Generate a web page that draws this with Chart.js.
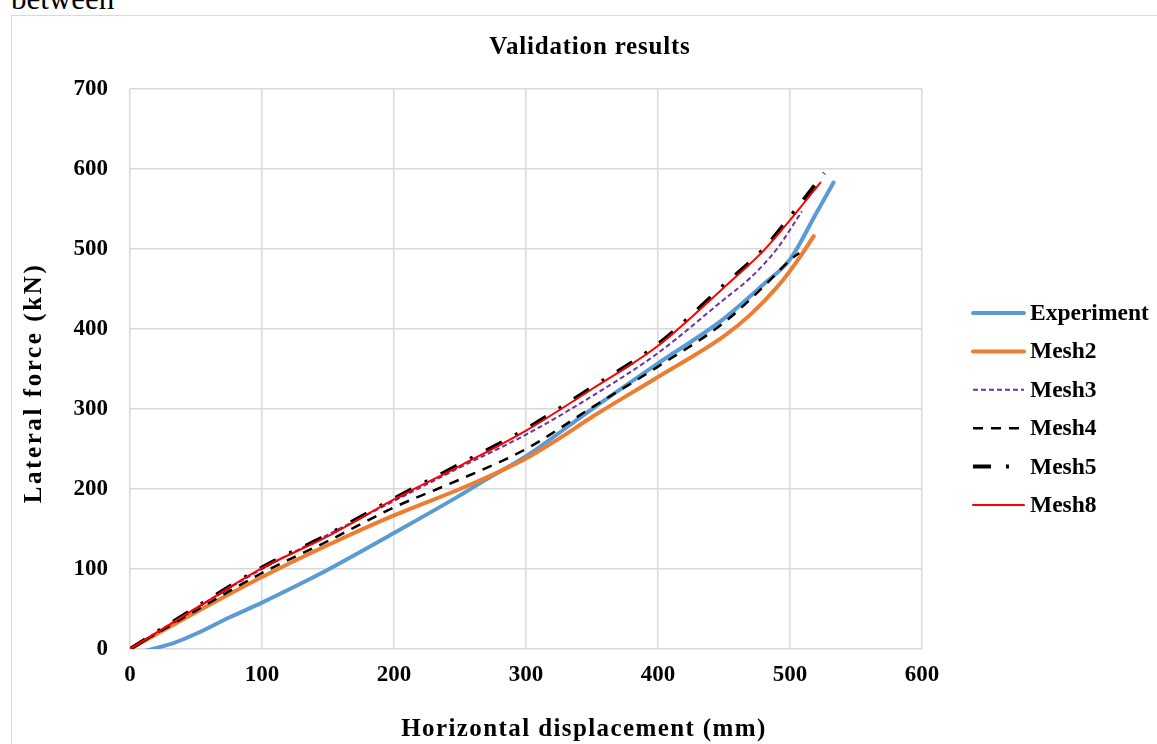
<!DOCTYPE html>
<html>
<head>
<meta charset="utf-8">
<script src="https://cdn.jsdelivr.net/npm/chart.js@4.4.1/dist/chart.umd.min.js"></script>
<style>
  html, body { margin: 0; padding: 0; background: #fff; overflow: hidden; }
  body { width: 1157px; height: 744px; position: relative; }
  #cut { position: absolute; left: 11px; top: -17px; font: 31px "Liberation Serif", serif; line-height: 31px; color: #000; }
  #frame { position: absolute; left: 11px; top: 15px; width: 1160px; height: 740px; border: 1px solid #d9d9d9; }
  #frame canvas { position: absolute; left: 0; top: 0; }
</style>
</head>
<body>
<div id="cut">between</div>
<div id="frame"><canvas id="validation-chart" width="1150" height="728"></canvas></div>
<script>
var chart_title = 'Validation results'
var x_title = 'Horizontal displacement (mm)'
var y_title = 'Lateral force (kN)'

var series_names = ['Experiment', 'Mesh2', 'Mesh3', 'Mesh4', 'Mesh5', 'Mesh8']

var experiment_x = [12, 34, 50, 76, 100, 126, 152, 200, 250, 270, 300, 350, 400, 450, 480, 500, 520, 533]
var experiment_y = [-2, 8, 19, 40, 58, 79, 101, 145, 192, 212, 241, 300, 357, 413, 456, 487, 545, 583]

var mesh2_x = [0, 50, 100, 150, 200, 250, 275, 300, 325, 350, 400, 450, 470, 490, 505, 518]
var mesh2_y = [0, 46, 90, 130, 167, 200, 218, 238, 263, 290, 340, 391, 418, 452, 484, 516]

var mesh3_x = [0, 50, 100, 150, 200, 250, 300, 350, 400, 450, 470, 490, 509]
var mesh3_y = [0, 51, 100, 143, 185, 227, 268, 316, 370, 437, 464, 500, 547]

var mesh4_x = [0, 50, 100, 150, 200, 250, 300, 350, 400, 450, 480, 500, 507]
var mesh4_y = [0, 48, 95, 135, 177, 212, 250, 302, 353, 408, 453, 486, 495]

var mesh5_x = [0, 50, 100, 150, 200, 250, 300, 350, 400, 450, 480, 500, 526]
var mesh5_y = [0, 52, 102, 143, 188, 231, 275, 327, 381, 455, 500, 540, 595]

var mesh8_x = [0, 50, 100, 150, 200, 250, 300, 350, 400, 450, 480, 500, 523]
var mesh8_y = [0, 51, 101, 141, 187, 229, 273, 325, 379, 452, 498, 536, 583]

var x_ticks = [0, 100, 200, 300, 400, 500, 600]
var y_ticks = [0, 100, 200, 300, 400, 500, 600, 700]

function points(xs, ys) {
  return xs.map( (x, i) => ({ x: x, y: ys[i] }) )
}

var serif = "'Liberation Serif', 'Times New Roman', serif"
var tick_font = { family: serif, size: 23, weight: 'bold' }

function line_set(name, xs, ys, color, width, dash, order) {
  return {
    label: name,
    data: points(xs, ys),
    showLine: true,
    borderColor: color,
    backgroundColor: color,
    borderWidth: width,
    borderDash: dash,
    borderCapStyle: dash.length ? 'butt' : 'round',
    pointRadius: 0,
    cubicInterpolationMode: 'monotone',
    order: order
  }
}

// legend, titles: drawn by hand so they sit where the original puts them
var decor = {
  id: 'decor',
  afterDraw(chart) {
    var c = chart.ctx
    c.save()
    c.fillStyle = '#000'
    c.textBaseline = 'middle'

    c.textAlign = 'center'
    c.font = 'bold 25px ' + serif
    c.letterSpacing = '0.8px'
    c.fillText(chart_title, 578, 32)

    c.letterSpacing = '1.4px'
    c.fillText(x_title, 572, 714)

    c.save()
    c.translate(23, 367)
    c.rotate(-Math.PI / 2)
    c.font = 'bold 25px ' + serif
    c.letterSpacing = '2.6px'
    c.fillText(y_title, 0, 0)
    c.restore()

    c.letterSpacing = '0px'
    c.textAlign = 'left'
    c.font = 'bold 23.5px ' + serif
    chart.data.datasets.forEach( (ds, i) => {
      var y = 297 + i * 38.4
      c.save()
      c.strokeStyle = ds.borderColor
      c.lineWidth = ds.borderWidth
      c.setLineDash(ds.borderDash)
      c.lineCap = ds.borderCapStyle
      c.beginPath()
      c.moveTo(961, y)
      c.lineTo(1012, y)
      c.stroke()
      c.restore()
      c.fillText(ds.label, 1018, y + 1)
    })
    c.restore()
  }
}

var ctx = document.getElementById('validation-chart').getContext('2d')
new Chart(ctx, {
  type: 'scatter',
  data: {
    datasets: [
      line_set(series_names[0], experiment_x, experiment_y, '#5b9bd5', 4, [], 6),
      line_set(series_names[1], mesh2_x, mesh2_y, '#ed7d31', 4, [], 5),
      line_set(series_names[2], mesh3_x, mesh3_y, '#7030a0', 2, [5, 3], 4),
      line_set(series_names[3], mesh4_x, mesh4_y, '#000000', 2.5, [10, 8], 3),
      line_set(series_names[4], mesh5_x, mesh5_y, '#000000', 4, [18, 15, 3, 15], 2),
      line_set(series_names[5], mesh8_x, mesh8_y, '#ff0000', 2, [], 1)
    ]
  },
  options: {
    responsive: false,
    animation: false,
    layout: { padding: { top: 73, right: 240, left: 0, bottom: 0 } },
    plugins: {
      legend: { display: false },
      tooltip: { enabled: false }
    },
    scales: {
      x: {
        type: 'linear',
        min: x_ticks[0],
        max: x_ticks[x_ticks.length - 1],
        afterBuildTicks: function(scale) { scale.ticks = x_ticks.map(v => ({ value: v })) },
        afterFit: function(scale) { scale.height = 95 },
        grid: { color: '#d9d9d9', lineWidth: 1.5, drawTicks: false },
        border: { display: false },
        ticks: { padding: 12, color: '#000', font: tick_font }
      },
      y: {
        type: 'linear',
        min: y_ticks[0],
        max: y_ticks[y_ticks.length - 1],
        afterBuildTicks: function(scale) { scale.ticks = y_ticks.map(v => ({ value: v })) },
        afterFit: function(scale) { scale.width = 118 },
        grid: { color: '#d9d9d9', lineWidth: 1.5, drawTicks: false },
        border: { display: false },
        ticks: { padding: 22, color: '#000', font: tick_font }
      }
    }
  },
  plugins: [decor]
});
</script>
</body>
</html>
